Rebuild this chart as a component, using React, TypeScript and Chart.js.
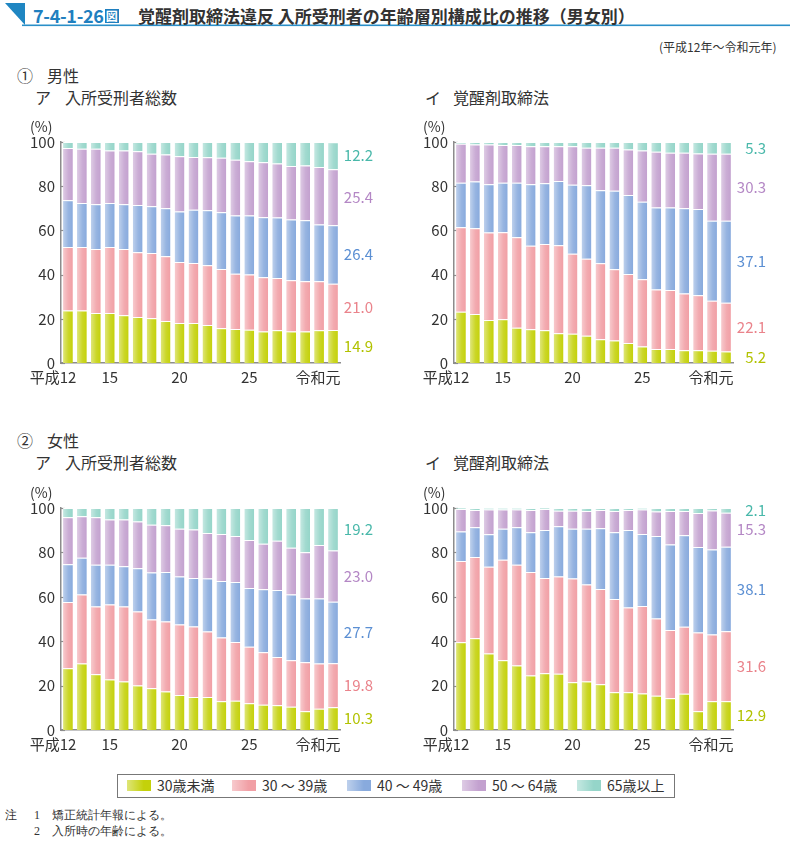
import React, { useEffect, useRef } from "react";
import { Chart, registerables } from "chart.js";

Chart.register(...registerables);

const categories = ["平成12", "13", "14", "15", "16", "17", "18", "19", "20", "21", "22", "23", "24", "25", "26", "27", "28", "29", "30", "令和元"];
const shownTicks = ["平成12", "15", "20", "25", "令和元"];
const yTicks = [0, 20, 40, 60, 80, 100];

const seriesNames = ["30歳未満", "30 ～ 39歳", "40 ～ 49歳", "50 ～ 64歳", "65歳以上"];
const barColors = ["#c4d10a", "#f19fa5", "#88aadd", "#c3a1cf", "#95d5c9"];
const textColors = ["#b2c200", "#ea838b", "#5b8fd3", "#b487c5", "#49b8aa"];

// ① 男性 ア 入所受刑者総数
const maleTotalU30 = [23.8, 23.8, 22.6, 22.6, 21.6, 20.8, 20.2, 19.0, 18.1, 18.1, 17.2, 15.7, 15.4, 15.1, 14.3, 14.8, 14.2, 14.3, 14.8, 14.9];
const maleTotal30s = [28.7, 28.7, 29.0, 29.9, 30.0, 29.3, 29.6, 29.3, 27.6, 27.1, 27.0, 26.8, 25.0, 25.0, 24.5, 23.7, 23.2, 22.7, 22.2, 21.0];
const maleTotal40s = [21.1, 19.9, 20.2, 19.9, 20.2, 21.4, 21.1, 21.7, 22.9, 24.2, 24.9, 25.7, 26.3, 26.6, 27.1, 27.3, 27.5, 27.6, 25.7, 26.4];
const maleTotal50s = [23.7, 24.6, 25.2, 23.8, 24.4, 24.3, 23.8, 24.4, 24.9, 23.8, 24.0, 24.7, 25.3, 24.6, 24.9, 24.5, 24.2, 24.8, 26.0, 25.4];
const maleTotal65 = [2.7, 3.0, 3.0, 3.8, 3.8, 4.2, 5.3, 5.6, 6.5, 6.8, 6.9, 7.1, 8.0, 8.7, 9.2, 9.7, 10.9, 10.6, 11.3, 12.2];

// ① 男性 イ 覚醒剤取締法
const maleMethU30 = [23.2, 22.2, 19.5, 19.8, 16.0, 15.3, 14.8, 13.5, 13.2, 12.3, 10.8, 10.2, 9.0, 7.5, 6.3, 6.3, 5.8, 5.8, 5.5, 5.2];
const maleMeth30s = [38.2, 38.8, 39.5, 39.4, 40.9, 37.7, 39.0, 39.8, 36.2, 34.9, 34.3, 32.2, 31.3, 30.4, 27.0, 26.7, 25.7, 24.8, 22.7, 22.1];
const maleMeth40s = [20.2, 21.1, 21.9, 22.4, 24.7, 27.9, 27.5, 29.1, 31.2, 33.2, 33.1, 35.5, 35.7, 35.1, 37.1, 37.4, 38.5, 39.1, 36.2, 37.1];
const maleMeth50s = [17.6, 16.8, 18.0, 17.0, 17.0, 17.2, 16.8, 15.7, 17.5, 17.0, 19.2, 19.5, 20.6, 23.2, 25.2, 24.7, 25.1, 25.1, 30.3, 30.3];
const maleMeth65 = [0.8, 1.1, 1.1, 1.4, 1.4, 1.9, 1.9, 1.9, 1.9, 2.6, 2.6, 2.6, 3.4, 3.8, 4.4, 4.9, 4.9, 5.2, 5.3, 5.3];

// ② 女性 ア 入所受刑者総数
const femaleTotalU30 = [27.8, 29.9, 25.1, 22.7, 21.8, 20.0, 18.8, 17.3, 15.8, 14.9, 14.9, 12.9, 13.2, 12.1, 11.4, 11.1, 10.5, 8.4, 9.6, 10.3];
const femaleTotal30s = [29.9, 31.1, 30.5, 33.8, 33.8, 33.4, 31.0, 31.6, 31.7, 31.7, 29.5, 28.8, 26.4, 25.4, 23.6, 21.8, 20.9, 22.1, 20.4, 19.8];
const femaleTotal40s = [17.0, 16.6, 18.8, 17.9, 18.2, 19.5, 21.1, 22.3, 21.6, 21.9, 23.8, 25.4, 27.1, 26.5, 28.4, 30.2, 29.6, 28.7, 29.2, 27.7];
const femaleTotal50s = [21.1, 18.7, 21.4, 20.4, 21.0, 21.0, 21.5, 21.0, 21.5, 21.8, 20.5, 21.2, 20.7, 21.6, 20.5, 22.1, 21.1, 20.9, 24.1, 23.0];
const femaleTotal65 = [4.2, 3.7, 4.2, 5.2, 5.2, 6.1, 7.6, 7.8, 9.4, 9.7, 11.3, 11.7, 12.6, 14.4, 16.1, 14.8, 17.9, 19.9, 16.7, 19.2];

// ② 女性 イ 覚醒剤取締法
const femaleMethU30 = [39.5, 41.3, 34.5, 31.4, 29.0, 24.5, 25.6, 25.3, 21.5, 21.8, 20.6, 17.0, 17.0, 16.4, 15.4, 14.3, 16.3, 8.4, 12.9, 12.9];
const femaleMeth30s = [36.6, 36.6, 39.0, 45.3, 45.4, 46.7, 42.9, 43.8, 46.7, 43.7, 42.9, 42.0, 38.2, 39.5, 34.8, 30.7, 30.2, 35.5, 30.1, 31.6];
const femaleMeth40s = [13.3, 13.4, 14.7, 13.9, 16.9, 17.9, 21.6, 22.7, 22.4, 25.1, 27.4, 30.1, 34.9, 32.4, 37.2, 38.6, 41.2, 38.5, 38.3, 38.1];
const femaleMeth50s = [10.2, 7.8, 11.1, 8.7, 8.0, 10.0, 9.5, 7.0, 8.2, 8.1, 8.2, 9.6, 9.0, 11.0, 11.0, 15.1, 11.0, 15.4, 17.6, 15.3];
const femaleMeth65 = [0.4, 0.9, 0.7, 0.7, 0.7, 0.9, 0.4, 1.2, 1.2, 1.3, 0.9, 1.3, 0.9, 0.7, 1.6, 1.3, 1.3, 2.2, 1.1, 2.1];

const FONT = "'Noto Sans CJK JP', 'Noto Sans', sans-serif";
const AXIS_COLOR = "#8c8c8c";
const TEXT = "#333333";

const Y_W = 60;
const PAD_TOP = 32;
const PAD_RIGHT = 56;
const X_H = 32;
const PLOT_W = 279;

const decoPlugin = {
  id: "deco",
  beforeDatasetsDraw(chart: any) {
    const ctx = chart.ctx;
    const ca = chart.chartArea;
    const ys = chart.scales.y;
    ctx.save();
    ctx.strokeStyle = AXIS_COLOR;
    ctx.lineWidth = 1.2;
    yTicks.forEach((v) => {
      const py = Math.round(ys.getPixelForValue(v)) + 0.5;
      ctx.beginPath();
      ctx.moveTo(ca.left, py);
      ctx.lineTo(ca.left + 4, py);
      ctx.stroke();
    });
    ctx.restore();
  },
  afterDatasetsDraw(chart: any) {
    const ctx = chart.ctx;
    ctx.save();
    chart.data.datasets.forEach((_ds: any, i: number) => {
      const meta = chart.getDatasetMeta(i);
      meta.data.forEach((el: any) => {
        const { x, y, base, width } = el.getProps(["x", "y", "base", "width"], true);
        const top = Math.min(y, base) + 1;
        const h = Math.abs(base - y) - 1;
        if (h <= 0) return;
        const g = ctx.createLinearGradient(x - width / 2, 0, x + width / 2, 0);
        g.addColorStop(0, "rgba(255,255,255,0.45)");
        g.addColorStop(0.55, "rgba(255,255,255,0.12)");
        g.addColorStop(1, "rgba(255,255,255,0)");
        ctx.fillStyle = g;
        ctx.fillRect(x - width / 2, top, width, h);
      });
    });
    ctx.restore();
  },
  afterDraw(chart: any) {
    const ctx = chart.ctx;
    const ca = chart.chartArea;
    const xs = chart.scales.x;
    ctx.save();
    // (%)
    ctx.font = `14px ${FONT}`;
    ctx.fillStyle = TEXT;
    ctx.textAlign = "left";
    ctx.textBaseline = "middle";
    ctx.fillText("(%)", ca.left - 31, ca.top - 15);
    // x tick labels
    ctx.font = `15px ${FONT}`;
    const ly = ca.bottom + 14;
    categories.forEach((c, i) => {
      if (!shownTicks.includes(c)) return;
      const px = xs.getPixelForValue(i);
      let prefix = "";
      let main = c;
      const m = c.match(/^(平成|令和)(.+)$/);
      if (m) {
        prefix = m[1];
        main = m[2];
      }
      const w = ctx.measureText(main).width;
      ctx.textAlign = "center";
      ctx.fillText(main, px, ly);
      if (prefix) {
        ctx.textAlign = "right";
        ctx.fillText(prefix, px - w / 2, ly);
      }
    });
    // end value labels
    const last = categories.length - 1;
    ctx.font = `15px ${FONT}`;
    ctx.textAlign = "right";
    chart.data.datasets.forEach((ds: any, i: number) => {
      const el: any = chart.getDatasetMeta(i).data[last];
      const { y, base } = el.getProps(["y", "base"], true);
      ctx.fillStyle = textColors[i];
      ctx.fillText(Number(ds.data[last]).toFixed(1), ca.right + 33, (y + base) / 2);
    });
    ctx.restore();
  },
};

type PanelProps = {
  axisX: number;
  plotTop: number;
  plotBottom: number;
  series: number[][];
};

function Panel({ axisX, plotTop, plotBottom, series }: PanelProps) {
  const ref = useRef<HTMLCanvasElement>(null);
  const left = axisX - Y_W;
  const top = plotTop - PAD_TOP;
  const width = Y_W + PLOT_W + PAD_RIGHT;
  const height = PAD_TOP + (plotBottom - plotTop) + X_H;

  useEffect(() => {
    if (!ref.current) return;
    const chart = new Chart(ref.current, {
      type: "bar",
      data: {
        labels: categories,
        datasets: series.map((d, i) => ({
          label: seriesNames[i],
          data: d,
          backgroundColor: barColors[i],
          borderColor: "#ffffff",
          borderWidth: { top: 1, left: 0, right: 0, bottom: 0 },
          borderSkipped: false,
          barPercentage: 0.7,
          categoryPercentage: 1,
        })),
      },
      options: {
        animation: false,
        responsive: false,
        maintainAspectRatio: false,
        devicePixelRatio: 1,
        layout: { padding: { top: PAD_TOP, right: PAD_RIGHT, bottom: 0, left: 0 } },
        plugins: { legend: { display: false }, tooltip: { enabled: false }, title: { display: false } },
        scales: {
          x: {
            stacked: true,
            grid: { display: false, drawTicks: false },
            border: { display: true, color: AXIS_COLOR, width: 1.5 },
            ticks: { display: false },
            afterFit: (s: any) => {
              s.height = X_H;
            },
          },
          y: {
            stacked: true,
            min: 0,
            max: 100,
            grid: { display: false, drawTicks: false },
            border: { display: true, color: AXIS_COLOR, width: 1.5 },
            ticks: {
              stepSize: 20,
              padding: 6,
              color: TEXT,
              font: { family: FONT, size: 15 },
            },
            afterFit: (s: any) => {
              s.width = Y_W;
            },
          },
        },
      },
      plugins: [decoPlugin],
    } as any);
    return () => chart.destroy();
  }, []);

  return (
    <canvas
      ref={ref}
      width={width}
      height={height}
      style={{ position: "absolute", left, top, width, height }}
    />
  );
}

const abs = (left: number, top: number, extra: React.CSSProperties = {}): React.CSSProperties => ({
  position: "absolute",
  left,
  top,
  whiteSpace: "nowrap",
  lineHeight: 1,
  ...extra,
});

export default function App() {
  const t16: React.CSSProperties = { fontSize: 16, color: TEXT };
  return (
    <div style={{ position: "absolute", left: 0, top: 0, width: 790, height: 842, background: "#fff", fontFamily: FONT, overflow: "hidden" }}>
      {/* title */}
      <svg width={790} height={30} style={{ position: "absolute", left: 0, top: 0 }}>
        <polygon points="5,3 25,3 25,25" fill="#1f86c2" />
        <rect x={22} y={24.5} width={768} height={1.6} fill="#2a8fc8" />
      </svg>
      <div style={abs(33, 6, { fontSize: 18, fontWeight: 700, color: "#1f7fbf", letterSpacing: -0.3 })}>
        7-4-1-26
        <span style={{ display: "inline-block", background: "#1f7fbf", color: "#fff", fontSize: 12, lineHeight: "14px", width: 14, height: 14, textAlign: "center", marginLeft: 1, verticalAlign: 2 }}>図</span>
      </div>
      <div style={abs(138, 7, { fontSize: 17, fontWeight: 700, color: "#333" })}>
        覚醒剤取締法違反 入所受刑者の年齢層別構成比の推移（男女別）
      </div>
      <div style={abs(659, 41, { fontSize: 12, color: TEXT })}>(平成12年～令和元年)</div>

      {/* section headers */}
      <div style={abs(17, 67, t16)}>①</div>
      <div style={abs(47, 67, t16)}>男性</div>
      <div style={abs(35, 89, t16)}>ア</div>
      <div style={abs(65, 89, t16)}>入所受刑者総数</div>
      <div style={abs(425, 89, t16)}>イ</div>
      <div style={abs(453, 89, t16)}>覚醒剤取締法</div>

      <div style={abs(17, 432, t16)}>②</div>
      <div style={abs(47, 432, t16)}>女性</div>
      <div style={abs(35, 454, t16)}>ア</div>
      <div style={abs(65, 454, t16)}>入所受刑者総数</div>
      <div style={abs(425, 454, t16)}>イ</div>
      <div style={abs(453, 454, t16)}>覚醒剤取締法</div>

      <Panel axisX={61} plotTop={142} plotBottom={363} series={[maleTotalU30, maleTotal30s, maleTotal40s, maleTotal50s, maleTotal65]} />
      <Panel axisX={454} plotTop={142} plotBottom={363} series={[maleMethU30, maleMeth30s, maleMeth40s, maleMeth50s, maleMeth65]} />
      <Panel axisX={61} plotTop={508} plotBottom={730} series={[femaleTotalU30, femaleTotal30s, femaleTotal40s, femaleTotal50s, femaleTotal65]} />
      <Panel axisX={454} plotTop={508} plotBottom={730} series={[femaleMethU30, femaleMeth30s, femaleMeth40s, femaleMeth50s, femaleMeth65]} />

      {/* legend */}
      <div style={{ position: "absolute", left: 117, top: 774, width: 556, height: 22, border: "1px solid #777" }} />
      {[127, 232, 347, 462, 577].map((x, i) => (
        <React.Fragment key={i}>
          <div
            style={{
              position: "absolute",
              left: x,
              top: 780,
              width: 24,
              height: 11,
              background: `linear-gradient(to right, rgba(255,255,255,0.45), rgba(255,255,255,0) 70%), ${barColors[i]}`,
            }}
          />
          <div style={abs(x + 30, 778, { fontSize: 14, color: TEXT })}>{seriesNames[i]}</div>
        </React.Fragment>
      ))}

      {/* notes */}
      <div style={abs(5, 809, { fontSize: 12, color: TEXT, fontFamily: "serif" })}>注</div>
      <div style={abs(34, 809, { fontSize: 12, color: TEXT, fontFamily: "serif" })}>1</div>
      <div style={abs(52, 809, { fontSize: 12, color: TEXT, fontFamily: "serif" })}>矯正統計年報による。</div>
      <div style={abs(34, 825, { fontSize: 12, color: TEXT, fontFamily: "serif" })}>2</div>
      <div style={abs(52, 825, { fontSize: 12, color: TEXT, fontFamily: "serif" })}>入所時の年齢による。</div>
    </div>
  );
}
